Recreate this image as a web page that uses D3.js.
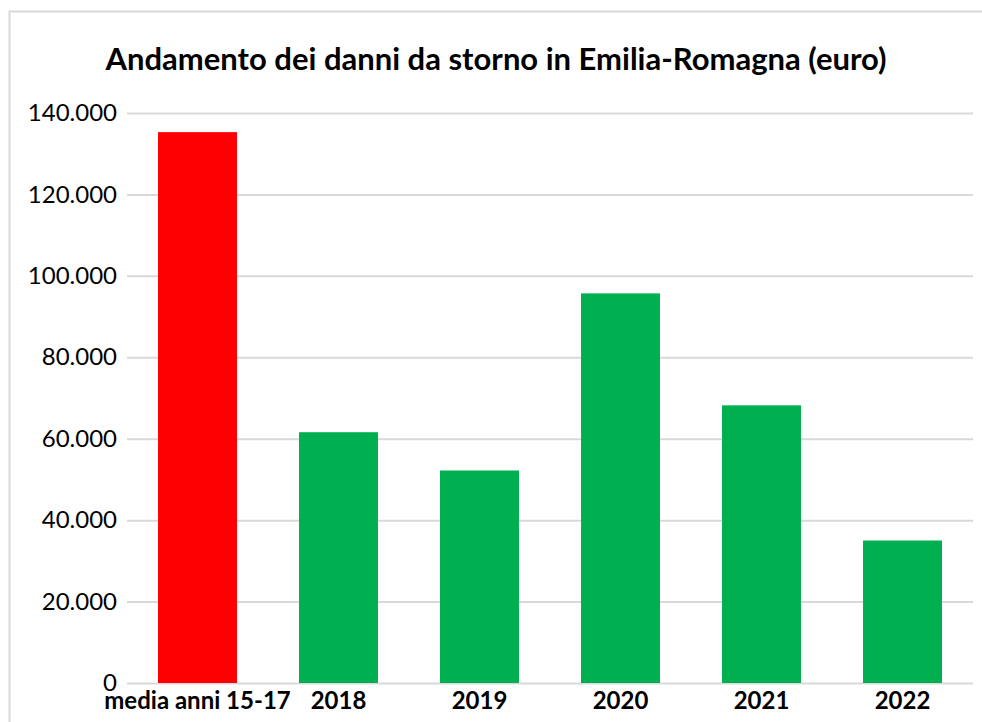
<!DOCTYPE html>
<html>
<head>
<meta charset="utf-8">
<script src="https://cdn.jsdelivr.net/npm/d3@7"></script>
<style>
  body { margin: 0; background: #fff; }
  text { font-family: Lato, "Open Sans", sans-serif; fill: #000; }
</style>
</head>
<body>
<div id="container"></div>
<script>
// data
var categories = ['media anni 15-17', '2018', '2019', '2020', '2021', '2022'];
var values = [135300, 61600, 52200, 95700, 68200, 35000];
var barColors = ['#ff0000', '#00b050', '#00b050', '#00b050', '#00b050', '#00b050'];
var yTicks = [0, 20000, 40000, 60000, 80000, 100000, 120000, 140000];
var title = 'Andamento dei danni da storno in Emilia-Romagna (euro)';

var W = 982, H = 722;
var margin = {top: 113, right: 9, bottom: 39, left: 127};
var width = W - margin.left - margin.right,
    height = H - margin.top - margin.bottom;

var svg = d3.select('#container').append('svg')
  .attr('width', W)
  .attr('height', H);

// chart frame (clipped at right and bottom like the screenshot)
svg.append('rect')
  .attr('x', 9.5).attr('y', 11.5)
  .attr('width', W + 20).attr('height', H + 20)
  .attr('fill', 'none')
  .attr('stroke', '#d9d9d9')
  .attr('stroke-width', 2);

svg.append('text')
  .attr('x', 496)
  .attr('y', 70)
  .attr('text-anchor', 'middle')
  .style('font-size', '31px')
  .style('font-weight', 'bold')
  .text(title);

var g = svg.append('g')
  .attr('transform', 'translate(' + margin.left + ',' + margin.top + ')');

var x = d3.scaleBand().domain(categories).range([0, width]).paddingInner(0.44).paddingOuter(0.22);
var y = d3.scaleLinear().domain([0, 140000]).range([height, 0]);

var fmt = function(d) { return d3.format(',')(d).replace(/,/g, '.'); };

// gridlines + y labels
var yAxis = d3.axisLeft(y).tickValues(yTicks).tickSize(-width).tickPadding(10).tickFormat(fmt);
var ya = g.append('g').attr('class', 'y axis').call(yAxis);
ya.select('.domain').remove();
ya.selectAll('line').attr('stroke', '#d9d9d9').attr('stroke-width', 2);
ya.selectAll('text').style('font-size', '24px').style('font-family', 'Lato, sans-serif').attr('fill', '#000');

// bars
g.selectAll('.bar')
  .data(values).enter()
  .append('rect')
    .attr('class', 'bar')
    .attr('x', function(d, i) { return x(categories[i]); })
    .attr('width', x.bandwidth())
    .attr('y', function(d) { return y(d); })
    .attr('height', function(d) { return height - y(d); })
    .attr('fill', function(d, i) { return barColors[i]; });

// x labels
var xAxis = d3.axisBottom(x).tickSize(0).tickPadding(0);
var xa = g.append('g').attr('class', 'x axis')
  .attr('transform', 'translate(0,' + height + ')')
  .call(xAxis);
xa.select('.domain').remove();
xa.selectAll('text')
  .attr('dy', null)
  .attr('y', 25.5)
  .style('font-size', '24px')
  .style('font-weight', 'bold')
  .style('font-family', 'Lato, sans-serif')
  .attr('fill', '#000');
</script>
</body>
</html>
